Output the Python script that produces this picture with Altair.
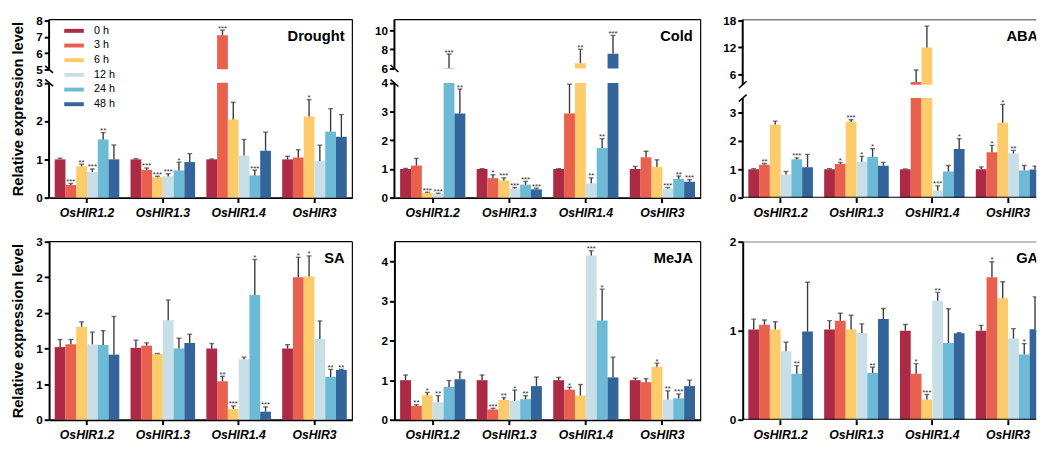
import altair as alt
import pandas as pd

genes = ["OsHIR1.2", "OsHIR1.3", "OsHIR1.4", "OsHIR3"]
times = ["0 h", "3 h", "6 h", "12 h", "24 h", "48 h"]
colors = ["#AD2A46", "#E9604F", "#FECB6A", "#C9DFE7", "#6DBAD6", "#33659A"]
panel_names = ["Drought", "Cold", "ABA", "SA", "MeJA", "GA"]

# mean values (rows = genes, cols = time points)
drought_mean = [[1.00, 0.33, 0.82, 0.67, 1.52, 1.00],
                [1.00, 0.725, 0.53, 0.56, 0.71, 0.93],
                [1.00, 7.10, 2.04, 1.10, 0.58, 1.225],
                [1.00, 1.05, 2.12, 0.95, 1.725, 1.59]]
drought_top = [[1.03, 0.37, 0.875, 0.75, 1.70, 1.375],
               [1.02, 0.775, 0.56, 0.625, 0.925, 1.15],
               [1.01, 7.41, 2.49, 1.52, 0.72, 1.71],
               [1.08, 1.25, 2.56, 1.37, 2.325, 2.17]]
drought_sig = [["", "***", "**", "***", "**", ""],
               ["", "***", "***", "***", "*", ""],
               ["", "***", "", "", "***", ""],
               ["", "", "*", "", "", ""]]

cold_mean = [[1.00, 1.12, 0.17, 0.13, 6.05, 2.94],
             [1.00, 0.68, 0.60, 0.32, 0.455, 0.29],
             [1.00, 2.94, 6.55, 0.50, 1.73, 7.52],
             [1.00, 1.41, 1.07, 0.32, 0.655, 0.555]]
cold_top = [[1.02, 1.37, 0.19, 0.155, 7.5, 3.79],
            [1.01, 0.80, 0.69, 0.355, 0.567, 0.333],
            [1.01, 3.96, 8.0, 0.69, 2.06, 9.45],
            [1.09, 1.62, 1.32, 0.355, 0.755, 0.63]]
cold_sig = [["", "", "***", "***", "***", "**"],
            ["", "*", "***", "***", "***", "***"],
            ["", "", "**", "**", "**", "***"],
            ["", "", "", "***", "**", "***"]]

aba_mean = [[1.00, 1.157, 2.57, 0.81, 1.35, 1.07],
            [1.00, 1.18, 2.66, 1.26, 1.44, 1.12],
            [1.00, 4.33, 12.0, 0.25, 0.92, 1.71],
            [1.00, 1.60, 2.63, 1.55, 0.955, 0.99]]
aba_top = [[1.02, 1.20, 2.69, 0.92, 1.40, 1.52],
           [1.02, 1.24, 2.74, 1.45, 1.72, 1.24],
           [1.01, 6.98, 16.75, 0.415, 1.13, 2.07],
           [1.08, 1.84, 3.28, 1.66, 1.13, 1.11]]
aba_sig = [["", "**", "", "", "***", ""],
           ["", "*", "***", "*", "*", ""],
           ["", "", "", "***", "", "*"],
           ["", "*", "*", "**", "", ""]]

sa_mean = [[1.02, 1.06, 1.306, 1.06, 1.05, 0.914],
           [1.01, 1.04, 0.923, 1.396, 1.00, 1.077],
           [1.00, 0.54, 0.153, 0.85, 1.75, 0.113],
           [1.00, 2.00, 2.01, 1.135, 0.604, 0.70]]
sa_top = [[1.126, 1.126, 1.374, 1.23, 1.25, 1.45],
          [1.117, 1.08, 0.93, 1.68, 1.144, 1.20],
          [1.07, 0.61, 0.194, 0.878, 2.25, 0.18],
          [1.054, 2.28, 2.30, 1.387, 0.707, 0.707]]
sa_sig = [["", "", "", "", "", ""],
          ["", "", "", "", "", ""],
          ["", "**", "***", "", "*", "***"],
          ["", "*", "*", "", "**", "**"]]

meja_mean = [[1.00, 0.35, 0.62, 0.44, 0.83, 1.02],
             [1.00, 0.26, 0.50, 0.48, 0.52, 0.85],
             [1.00, 0.76, 0.61, 4.15, 2.51, 1.07],
             [1.00, 0.95, 1.34, 0.51, 0.54, 0.85]]
meja_top = [[1.13, 0.38, 0.69, 0.61, 0.99, 1.21],
            [1.13, 0.29, 0.56, 0.75, 0.61, 1.08],
            [1.07, 0.82, 0.89, 4.27, 3.30, 1.58],
            [1.05, 1.04, 1.43, 0.73, 0.65, 1.00]]
meja_sig = [["", "**", "*", "**", "", ""],
            ["", "***", "**", "*", "**", ""],
            ["", "*", "", "***", "*", ""],
            ["", "", "*", "**", "***", ""]]

ga_mean = [[1.013, 1.066, 1.013, 0.77, 0.517, 0.99],
           [1.013, 1.113, 1.013, 0.973, 0.524, 1.131],
           [1.00, 0.517, 0.226, 1.336, 0.862, 0.97],
           [1.00, 1.60, 1.364, 0.912, 0.733, 1.016]]
ga_top = [[1.13, 1.12, 1.10, 0.87, 0.607, 1.544],
          [1.113, 1.196, 1.174, 1.077, 0.59, 1.25],
          [1.07, 0.63, 0.284, 1.43, 1.246, 0.977],
          [1.06, 1.774, 1.55, 1.023, 0.855, 1.38]]
ga_sig = [["", "", "", "", "**", ""],
          ["", "", "", "", "**", ""],
          ["", "*", "***", "**", "", ""],
          ["", "*", "", "", "*", ""]]

FONT = "Liberation Sans"
H = 182
R = H / 186.0                 # broken-axis segment positions were read at height 186
WIDTHS = [310, 313, 310]      # full panel widths
VISIBLE_LAST = 300            # the right-hand column is cut off at the page edge
ERR_COLOR = "#3a3a3a"


def make_df(mean, top, sig):
    rows = []
    for gi, g in enumerate(genes):
        for ti, t in enumerate(times):
            rows.append({"gene": g, "time": t, "mean": mean[gi][ti],
                         "top": top[gi][ti], "sig": sig[gi][ti]})
    return pd.DataFrame(rows)


def panel(name, mean, top, sig, Wfull, domain, rng, ticks, gap=None,
          slash="\\", ytitle=None, legend=False, Wvis=None):
    W = Wvis if Wvis is not None else Wfull
    cut = Wvis is not None
    df = make_df(mean, top, sig)
    if rng is None:
        yscale = alt.Scale(domain=domain, nice=False, zero=False)
    else:
        yscale = alt.Scale(domain=domain, range=[r * R for r in rng], nice=False, zero=False)
    yaxis_kw = dict(values=ticks, labelExpr="format(round(datum.value), 'd')",
                    labelOverlap=False, domain=gap is None)
    if ytitle:
        yaxis = alt.Axis(title=ytitle, titleFontSize=15, titleFontWeight="bold",
                         titleFont=FONT, titlePadding=10, **yaxis_kw)
    else:
        yaxis = alt.Axis(title=None, minExtent=20, maxExtent=20, **yaxis_kw)

    xs_kw = dict(domain=genes, paddingInner=0.148, paddingOuter=0.074)
    if cut:
        xs_kw["range"] = [0, Wfull]
    xenc = alt.X("gene:N", sort=genes, scale=alt.Scale(**xs_kw),
                 axis=alt.Axis(title=None, labelAngle=0, labelFontStyle="italic",
                               labelFontSize=12.5, labelPadding=4, domain=not cut))
    xoff = alt.XOffset("time:N", sort=times,
                       scale=alt.Scale(domain=times, paddingInner=0, paddingOuter=0))
    base = alt.Chart(df).encode(x=xenc, xOffset=xoff)

    if legend:
        leg = alt.Legend(orient="none", legendX=19, legendY=5, title=None,
                         symbolType="M-1.54,-0.31H1.54V0.31H-1.54Z", symbolSize=169,
                         symbolStrokeWidth=0, labelFontSize=11, labelFont=FONT,
                         labelFontWeight="normal", labelOffset=14, rowPadding=3,
                         padding=0, labelColor="black")
    else:
        leg = None
    bars = base.mark_bar(clip=cut).encode(
        y=alt.Y("mean:Q", scale=yscale, axis=yaxis),
        color=alt.Color("time:N", scale=alt.Scale(domain=times, range=colors),
                        legend=leg, sort=times),
    )
    err = base.mark_rule(color=ERR_COLOR, strokeWidth=1.4, clip=cut).encode(
        y=alt.Y("mean:Q", axis=yaxis), y2="top:Q")
    cap = base.mark_tick(color=ERR_COLOR, thickness=1.4, size=5,
                         orient="horizontal", clip=cut).encode(y=alt.Y("top:Q", axis=yaxis))
    stars = base.mark_text(fontSize=8, color="#333333", baseline="alphabetic",
                           dy=0.5, font=FONT, clip=cut).encode(
        y=alt.Y("top:Q", axis=yaxis), text="sig:N")

    layers = [bars, err, cap, stars]

    one = pd.DataFrame({"k": [0]})
    if gap is not None:
        lo, hi = gap
        mask = alt.Chart(pd.DataFrame({"lo": [lo], "hi": [hi]})).mark_rect(
            color="white", clip=cut).encode(x=alt.value(0), x2=alt.value(Wfull),
                                            y=alt.Y("lo:Q", axis=yaxis), y2="hi:Q")
        segs = alt.Chart(pd.DataFrame({"a": [domain[0], hi], "b": [lo, domain[-1]]})).mark_rule(
            color="black", strokeWidth=2).encode(
            x=alt.value(0), y=alt.Y("a:Q", axis=yaxis), y2="b:Q")
        off = 3.5 if slash == "\\" else -3.5
        sl = alt.Chart(pd.DataFrame({"v": [lo, hi]})).mark_rule(
            color="black", strokeWidth=1.6, yOffset=-off, y2Offset=off).encode(
            x=alt.value(-4), x2=alt.value(4),
            y=alt.Y("v:Q", axis=yaxis), y2="v:Q")
        layers += [mask, segs, sl]

    top_line = alt.Chart(one).mark_rule(color="black", strokeWidth=1.2, clip=cut).encode(
        x=alt.value(0), x2=alt.value(Wfull), y=alt.value(0))
    layers.append(top_line)
    if cut:
        bottom_line = alt.Chart(one).mark_rule(color="black", strokeWidth=2, clip=True).encode(
            x=alt.value(0), x2=alt.value(Wfull), y=alt.value(H))
        layers.append(bottom_line)
    else:
        right_line = alt.Chart(one).mark_rule(color="black", strokeWidth=1.2).encode(
            x=alt.value(Wfull), y=alt.value(0), y2=alt.value(H))
        layers.append(right_line)
    title = alt.Chart(pd.DataFrame({"t": [name]})).mark_text(
        align="right", baseline="middle", fontSize=15, fontWeight="bold",
        font=FONT, color="black", clip=cut).encode(
        x=alt.value(Wfull - 8), y=alt.value(17), text="t:N")
    layers.append(title)
    return alt.layer(*layers).properties(width=W, height=H)


YT = "Relative expression level"
p1 = panel(panel_names[0], drought_mean, drought_top, drought_sig, WIDTHS[0],
           [0, 3, 5, 8.06], [186, 66, 52, 0], [0, 1, 2, 3, 5, 6, 7, 8],
           gap=(3, 5), slash="\\", ytitle=YT, legend=True)
p2 = panel(panel_names[1], cold_mean, cold_top, cold_sig, WIDTHS[1],
           [0, 4, 6, 11.1], [186, 66.3, 51, 0], [0, 1, 2, 3, 4, 6, 8, 10],
           gap=(4, 6), slash="\\")
p3 = panel(panel_names[2], aba_mean, aba_top, aba_sig, WIDTHS[2],
           [0, 3.5, 3.72, 18.2], [186, 82, 68, 0], [0, 1, 2, 3, 6, 12, 18],
           gap=(3.5, 3.72), slash="/", Wvis=VISIBLE_LAST)
p4 = panel(panel_names[3], sa_mean, sa_top, sa_sig, WIDTHS[0],
           [0, 2.5], None, [0, 0.5, 1, 1.5, 2, 2.5], ytitle=YT)
p5 = panel(panel_names[4], meja_mean, meja_top, meja_sig, WIDTHS[1],
           [0, 4.5], None, [0, 1, 2, 3, 4])
p6 = panel(panel_names[5], ga_mean, ga_top, ga_sig, WIDTHS[2],
           [0, 2], None, [0, 1, 2], Wvis=VISIBLE_LAST)

chart = alt.concat(p1, p2, p3, p4, p5, p6, columns=3,
                   spacing={"row": 17, "column": 21}).resolve_scale(
    y="independent", x="independent", color="independent", xOffset="independent"
).configure_view(stroke=None).configure_axis(
    labelFont=FONT, labelFontWeight="bold", labelFontSize=12, labelColor="black",
    tickColor="black", domainColor="black", domainWidth=2, tickWidth=2, tickSize=5,
    labelPadding=2, grid=False, titleColor="black"
).properties(padding={"left": 3, "top": 1, "right": 0, "bottom": 0})

chart.save("out.html", embed_options={"renderer": "svg", "actions": False})
